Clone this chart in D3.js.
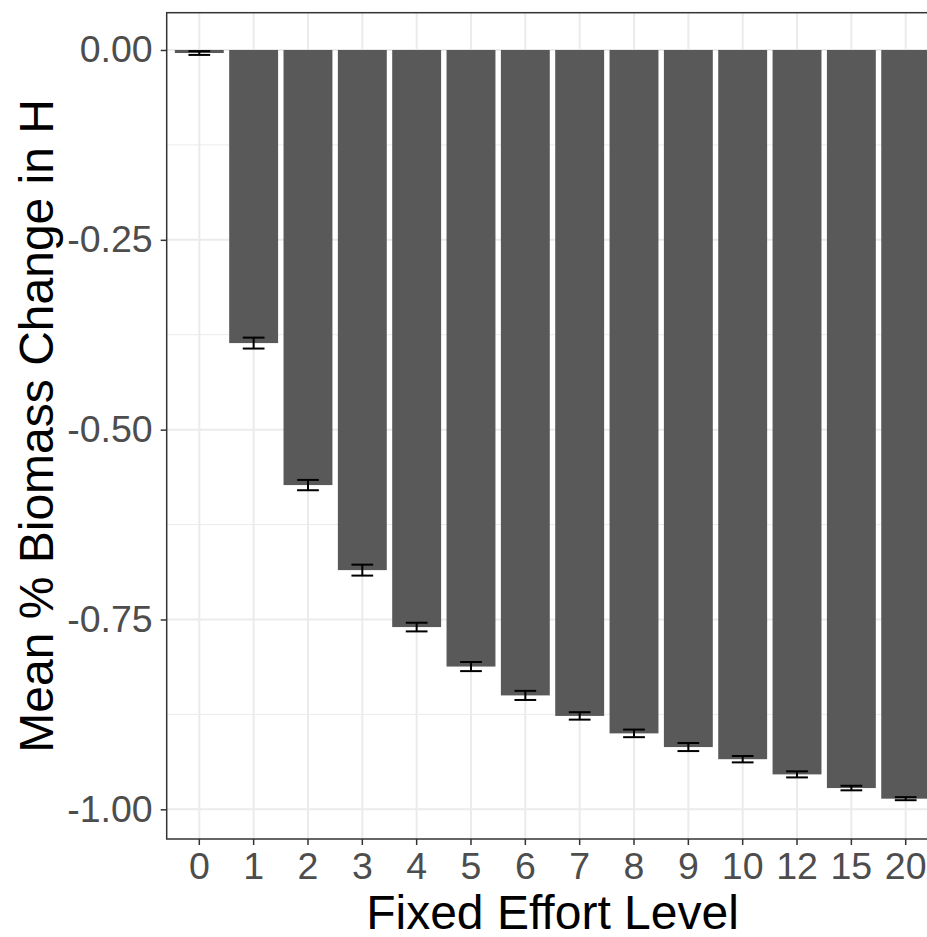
<!DOCTYPE html>
<html>
<head>
<meta charset="utf-8">
<script src="https://cdn.jsdelivr.net/npm/d3@7"></script>
<style>
  html, body { margin: 0; padding: 0; background: #fff; }
  svg { display: block; font-family: "Liberation Sans", Arial, sans-serif; }
</style>
</head>
<body>
<svg id="chart" width="927" height="937"></svg>
<script>
// Fixed effort levels and mean % biomass change (with standard errors)
const effortLevels = ["0", "1", "2", "3", "4", "5", "6", "7", "8", "9", "10", "12", "15", "20"];
const meanChange = [-0.004, -0.386, -0.573, -0.685, -0.760, -0.812, -0.850, -0.877, -0.900, -0.918, -0.934, -0.954, -0.972, -0.986];
const stdErr = [0.0025, 0.0072, 0.0068, 0.0072, 0.0057, 0.006, 0.006, 0.0049, 0.005, 0.0053, 0.0042, 0.004, 0.003, 0.002];
const yTicks = [0, -0.25, -0.5, -0.75, -1];
const yMinorTicks = [-0.125, -0.375, -0.625, -0.875];

const svg = d3.select("#chart");
const panel = { left: 166.7, top: 12.7, right: 938.3, bottom: 839 };

const x = d3.scaleBand()
  .domain(effortLevels)
  .range([panel.left, panel.right])
  .paddingInner(0.1)
  .paddingOuter(0.15);
const y = d3.scaleLinear()
  .domain([0.0491, -1.0391])
  .range([panel.top, panel.bottom]);
const cx = d => x(d) + x.bandwidth() / 2;

// grid lines
const grid = svg.append("g");
grid.selectAll("line.minor").data(yMinorTicks).join("line")
  .attr("x1", panel.left).attr("x2", panel.right)
  .attr("y1", d => y(d)).attr("y2", d => y(d))
  .attr("stroke", "#EBEBEB").attr("stroke-width", 1);
grid.selectAll("line.majory").data(yTicks).join("line")
  .attr("x1", panel.left).attr("x2", panel.right)
  .attr("y1", d => y(d)).attr("y2", d => y(d))
  .attr("stroke", "#EBEBEB").attr("stroke-width", 2);
grid.selectAll("line.majorx").data(effortLevels).join("line")
  .attr("x1", d => cx(d)).attr("x2", d => cx(d))
  .attr("y1", panel.top).attr("y2", panel.bottom)
  .attr("stroke", "#EBEBEB").attr("stroke-width", 2);

// bars
const rows = effortLevels.map((k, i) => ({ k, v: meanChange[i], se: stdErr[i] }));
svg.append("g").selectAll("rect").data(rows).join("rect")
  .attr("x", d => x(d.k))
  .attr("width", x.bandwidth())
  .attr("y", d => y(Math.max(0, d.v)))
  .attr("height", d => Math.abs(y(d.v) - y(0)))
  .attr("fill", "#595959");

// error bars (mean ± se)
const ebHalf = x.step() * 0.2;
const eb = svg.append("g").attr("stroke", "#000").attr("stroke-width", 2).attr("fill", "none");
rows.forEach(d => {
  const c = cx(d.k);
  const y1 = y(d.v + d.se), y2 = y(d.v - d.se);
  eb.append("line").attr("x1", c - ebHalf).attr("x2", c + ebHalf).attr("y1", y1).attr("y2", y1);
  eb.append("line").attr("x1", c - ebHalf).attr("x2", c + ebHalf).attr("y1", y2).attr("y2", y2);
  eb.append("line").attr("x1", c).attr("x2", c).attr("y1", y1).attr("y2", y2);
});

// panel border
svg.append("rect")
  .attr("x", panel.left).attr("y", panel.top)
  .attr("width", panel.right - panel.left).attr("height", panel.bottom - panel.top)
  .attr("fill", "none").attr("stroke", "#333333").attr("stroke-width", 1.5);

// axes
const fmt = d3.format(".2f");
const yAxis = d3.axisLeft(y).tickValues(yTicks).tickSize(6).tickPadding(8)
  .tickFormat(d => fmt(d).replace("\u2212", "-"));
const gy = svg.append("g").attr("transform", `translate(${panel.left},0)`).call(yAxis);
gy.select(".domain").remove();
gy.selectAll(".tick line").attr("stroke", "#333333").attr("stroke-width", 1.5);
gy.selectAll(".tick text").attr("fill", "#4D4D4D").attr("font-size", 37.5)
  .attr("font-family", "Liberation Sans, Arial, sans-serif");

const xAxis = d3.axisBottom(x).tickSize(6).tickPadding(7);
const gx = svg.append("g").attr("transform", `translate(0,${panel.bottom})`).call(xAxis);
gx.select(".domain").remove();
gx.selectAll(".tick line").attr("stroke", "#333333").attr("stroke-width", 1.5);
gx.selectAll(".tick text").attr("fill", "#4D4D4D").attr("font-size", 37.5)
  .attr("font-family", "Liberation Sans, Arial, sans-serif");

// axis titles
svg.append("text")
  .attr("x", (panel.left + panel.right) / 2).attr("y", 929)
  .attr("text-anchor", "middle").attr("font-size", 48).attr("fill", "#000")
  .text("Fixed Effort Level");
svg.append("text")
  .attr("transform", `translate(53,${(panel.top + panel.bottom) / 2}) rotate(-90)`)
  .attr("text-anchor", "middle").attr("font-size", 48).attr("fill", "#000")
  .text("Mean % Biomass Change in H");
</script>
</body>
</html>
